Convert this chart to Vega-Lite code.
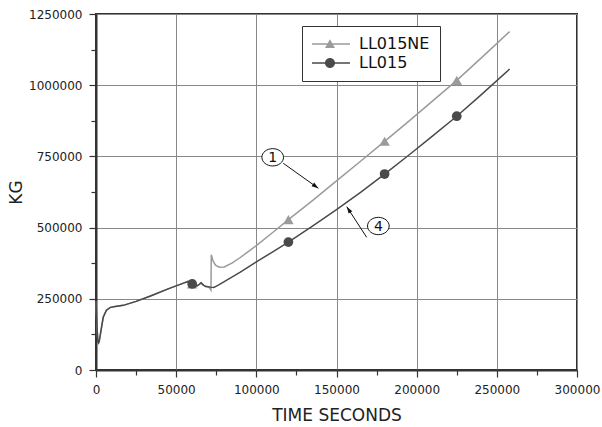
{
  "$schema": "https://vega.github.io/schema/vega-lite/v6.json",
  "width": 481,
  "height": 356,
  "autosize": {"type": "none"},
  "padding": {"left": 96, "top": 14, "right": 25, "bottom": 57},
  "background": "white",
  "config": {
    "view": {"stroke": "#333333", "strokeWidth": 2},
    "font": "DejaVu Sans"
  },
  "datasets": {
    "lines": [
      {"t": 0, "kg": 240000, "series": "LL015NE"},
      {"t": 300, "kg": 195000, "series": "LL015NE"},
      {"t": 600, "kg": 155000, "series": "LL015NE"},
      {"t": 900, "kg": 125000, "series": "LL015NE"},
      {"t": 1200, "kg": 100000, "series": "LL015NE"},
      {"t": 1600, "kg": 95000, "series": "LL015NE"},
      {"t": 2000, "kg": 100000, "series": "LL015NE"},
      {"t": 3000, "kg": 135000, "series": "LL015NE"},
      {"t": 4500, "kg": 185000, "series": "LL015NE"},
      {"t": 6500, "kg": 210000, "series": "LL015NE"},
      {"t": 9000, "kg": 220000, "series": "LL015NE"},
      {"t": 12000, "kg": 223000, "series": "LL015NE"},
      {"t": 17000, "kg": 227000, "series": "LL015NE"},
      {"t": 25000, "kg": 241000, "series": "LL015NE"},
      {"t": 34000, "kg": 260000, "series": "LL015NE"},
      {"t": 45000, "kg": 285000, "series": "LL015NE"},
      {"t": 55000, "kg": 306000, "series": "LL015NE"},
      {"t": 57500, "kg": 311000, "series": "LL015NE"},
      {"t": 59500, "kg": 304000, "series": "LL015NE"},
      {"t": 61500, "kg": 297000, "series": "LL015NE"},
      {"t": 63000, "kg": 295000, "series": "LL015NE"},
      {"t": 64500, "kg": 301000, "series": "LL015NE"},
      {"t": 65500, "kg": 306000, "series": "LL015NE"},
      {"t": 67000, "kg": 298000, "series": "LL015NE"},
      {"t": 68500, "kg": 293000, "series": "LL015NE"},
      {"t": 70000, "kg": 292000, "series": "LL015NE"},
      {"t": 71000, "kg": 287000, "series": "LL015NE"},
      {"t": 71700, "kg": 281000, "series": "LL015NE"},
      {"t": 71900, "kg": 405000, "series": "LL015NE"},
      {"t": 73000, "kg": 383000, "series": "LL015NE"},
      {"t": 74500, "kg": 368000, "series": "LL015NE"},
      {"t": 77000, "kg": 361000, "series": "LL015NE"},
      {"t": 80000, "kg": 362000, "series": "LL015NE"},
      {"t": 85000, "kg": 376000, "series": "LL015NE"},
      {"t": 90000, "kg": 395000, "series": "LL015NE"},
      {"t": 100000, "kg": 437000, "series": "LL015NE"},
      {"t": 110000, "kg": 482000, "series": "LL015NE"},
      {"t": 120000, "kg": 528000, "series": "LL015NE"},
      {"t": 135000, "kg": 595000, "series": "LL015NE"},
      {"t": 150000, "kg": 664000, "series": "LL015NE"},
      {"t": 165000, "kg": 733000, "series": "LL015NE"},
      {"t": 180000, "kg": 803000, "series": "LL015NE"},
      {"t": 195000, "kg": 873000, "series": "LL015NE"},
      {"t": 210000, "kg": 945000, "series": "LL015NE"},
      {"t": 225000, "kg": 1017000, "series": "LL015NE"},
      {"t": 240000, "kg": 1094000, "series": "LL015NE"},
      {"t": 258000, "kg": 1188000, "series": "LL015NE"},
      {"t": 0, "kg": 240000, "series": "LL015"},
      {"t": 300, "kg": 195000, "series": "LL015"},
      {"t": 600, "kg": 155000, "series": "LL015"},
      {"t": 900, "kg": 125000, "series": "LL015"},
      {"t": 1200, "kg": 100000, "series": "LL015"},
      {"t": 1600, "kg": 95000, "series": "LL015"},
      {"t": 2000, "kg": 100000, "series": "LL015"},
      {"t": 3000, "kg": 135000, "series": "LL015"},
      {"t": 4500, "kg": 185000, "series": "LL015"},
      {"t": 6500, "kg": 210000, "series": "LL015"},
      {"t": 9000, "kg": 220000, "series": "LL015"},
      {"t": 12000, "kg": 223000, "series": "LL015"},
      {"t": 17000, "kg": 227000, "series": "LL015"},
      {"t": 25000, "kg": 241000, "series": "LL015"},
      {"t": 34000, "kg": 260000, "series": "LL015"},
      {"t": 45000, "kg": 285000, "series": "LL015"},
      {"t": 55000, "kg": 306000, "series": "LL015"},
      {"t": 57500, "kg": 311000, "series": "LL015"},
      {"t": 59500, "kg": 304000, "series": "LL015"},
      {"t": 61500, "kg": 297000, "series": "LL015"},
      {"t": 63000, "kg": 295000, "series": "LL015"},
      {"t": 64500, "kg": 301000, "series": "LL015"},
      {"t": 65500, "kg": 306000, "series": "LL015"},
      {"t": 67000, "kg": 298000, "series": "LL015"},
      {"t": 68500, "kg": 293000, "series": "LL015"},
      {"t": 70000, "kg": 292000, "series": "LL015"},
      {"t": 71500, "kg": 291000, "series": "LL015"},
      {"t": 73500, "kg": 290000, "series": "LL015"},
      {"t": 76000, "kg": 297000, "series": "LL015"},
      {"t": 80000, "kg": 310000, "series": "LL015"},
      {"t": 90000, "kg": 344000, "series": "LL015"},
      {"t": 100000, "kg": 380000, "series": "LL015"},
      {"t": 110000, "kg": 414000, "series": "LL015"},
      {"t": 120000, "kg": 449000, "series": "LL015"},
      {"t": 135000, "kg": 505000, "series": "LL015"},
      {"t": 150000, "kg": 563000, "series": "LL015"},
      {"t": 165000, "kg": 624000, "series": "LL015"},
      {"t": 180000, "kg": 688000, "series": "LL015"},
      {"t": 195000, "kg": 754000, "series": "LL015"},
      {"t": 210000, "kg": 822000, "series": "LL015"},
      {"t": 225000, "kg": 891000, "series": "LL015"},
      {"t": 240000, "kg": 965000, "series": "LL015"},
      {"t": 258000, "kg": 1057000, "series": "LL015"}
    ],
    "markers": [
      {"t": 60000, "kg": 302000, "series": "LL015NE"},
      {"t": 120000, "kg": 528000, "series": "LL015NE"},
      {"t": 180000, "kg": 803000, "series": "LL015NE"},
      {"t": 225000, "kg": 1017000, "series": "LL015NE"},
      {"t": 60000, "kg": 302000, "series": "LL015"},
      {"t": 120000, "kg": 449000, "series": "LL015"},
      {"t": 180000, "kg": 688000, "series": "LL015"},
      {"t": 225000, "kg": 891000, "series": "LL015"}
    ],
    "notes": [
      {"label": "1", "t": 110200, "kg": 746800},
      {"label": "4", "t": 176100, "kg": 505600}
    ],
    "arrows": [
      {"id": "a1", "t": 116800, "kg": 725800, "t2": 138700, "kg2": 638000},
      {"id": "a4", "t": 168800, "kg": 466000, "t2": 156400, "kg2": 573400}
    ]
  },
  "encoding": {
    "x": {
      "field": "t", "type": "quantitative",
      "scale": {"domain": [0, 300000], "nice": false, "zero": false},
      "axis": {
        "values": [0, 25000, 50000, 75000, 100000, 125000, 150000, 175000, 200000, 225000, 250000, 275000, 300000],
        "format": "d",
        "labelExpr": "datum.value % 50000 === 0 ? datum.label : ''",
        "title": "TIME SECONDS",
        "titleFont": "DejaVu Sans",
        "titleFontSize": 17,
        "titleFontWeight": "normal",
        "titleColor": "#222222",
        "titlePadding": 12,
        "labelFont": "DejaVu Sans",
        "labelFontSize": 12,
        "labelColor": "#222222",
        "labelPadding": 7,
        "labelFlush": false,
        "labelOverlap": false,
        "tickSize": {"condition": {"test": "datum.value % 50000 === 0", "value": 7}, "value": 5},
        "tickColor": "#333333",
        "tickWidth": 1.2,
        "domainColor": "#333333",
        "domainWidth": 2,
        "grid": true,
        "gridColor": "#888888",
        "gridWidth": 1,
        "gridOpacity": {"condition": {"test": "datum.value % 50000 === 0", "value": 1}, "value": 0}
      }
    },
    "y": {
      "field": "kg", "type": "quantitative",
      "scale": {"domain": [0, 1250000], "nice": false},
      "axis": {
        "values": [0, 125000, 250000, 375000, 500000, 625000, 750000, 875000, 1000000, 1125000, 1250000],
        "format": "d",
        "labelExpr": "datum.value % 250000 === 0 ? datum.label : ''",
        "title": "KG",
        "titleFont": "DejaVu Sans",
        "titleFontSize": 17,
        "titleFontWeight": "normal",
        "titleColor": "#222222",
        "titlePadding": 3,
        "labelFont": "DejaVu Sans",
        "labelFontSize": 12,
        "labelColor": "#222222",
        "labelPadding": 7,
        "labelFlush": false,
        "labelOverlap": false,
        "tickSize": {"condition": {"test": "datum.value % 250000 === 0", "value": 7}, "value": 5},
        "tickColor": "#333333",
        "tickWidth": 1.2,
        "domainColor": "#333333",
        "domainWidth": 2,
        "grid": true,
        "gridColor": "#888888",
        "gridWidth": 1,
        "gridOpacity": {"condition": {"test": "datum.value % 250000 === 0", "value": 1}, "value": 0}
      }
    }
  },
  "layer": [
    {
      "data": {"name": "lines"},
      "transform": [{"filter": "datum.series === 'LL015NE'"}],
      "mark": {"type": "line", "color": "#9b9b9b", "strokeWidth": 1.5}
    },
    {
      "data": {"name": "lines"},
      "transform": [{"filter": "datum.series === 'LL015'"}],
      "mark": {"type": "line", "color": "#4a4a4a", "strokeWidth": 1.5}
    },
    {
      "data": {"name": "markers"},
      "transform": [{"filter": "datum.series === 'LL015NE'"}],
      "mark": {"type": "point", "shape": "triangle-up", "filled": true, "color": "#9b9b9b", "size": 110, "opacity": 1}
    },
    {
      "data": {"name": "markers"},
      "transform": [{"filter": "datum.series === 'LL015'"}],
      "mark": {"type": "point", "shape": "circle", "filled": true, "color": "#4a4a4a", "size": 95, "opacity": 1}
    },
    {
      "data": {"name": "markers"},
      "mark": {"type": "point", "filled": true, "opacity": 0},
      "encoding": {
        "color": {
          "field": "series", "type": "nominal",
          "scale": {"domain": ["LL015NE", "LL015"], "range": ["#9b9b9b", "#4a4a4a"]},
          "legend": {
            "title": null, "orient": "none", "legendX": 206, "legendY": 12,
            "strokeColor": "#333333", "fillColor": "white", "padding": 10,
            "labelFont": "DejaVu Sans", "labelFontSize": 16, "labelColor": "#111111",
            "labelOffset": 31, "symbolSize": 100, "symbolOpacity": 1, "symbolStrokeWidth": 0, "rowPadding": 3
          }
        },
        "shape": {
          "field": "series", "type": "nominal",
          "scale": {"domain": ["LL015NE", "LL015"], "range": [
            "M-1.6,-0.15L6,-0.15L6,0.15L-1.6,0.15Z M1,0.8L2,-0.95L3,0.8Z",
            "M-1.6,-0.15L6,-0.15L6,0.15L-1.6,0.15Z M3,0A1,1 0 1,1 1,0A1,1 0 1,1 3,0Z"
          ]},
          "legend": {
            "title": null, "orient": "none", "legendX": 206, "legendY": 12,
            "strokeColor": "#333333", "fillColor": "white", "padding": 10,
            "labelFont": "DejaVu Sans", "labelFontSize": 16, "labelColor": "#111111",
            "labelOffset": 31, "symbolSize": 100, "symbolOpacity": 1, "symbolStrokeWidth": 0, "rowPadding": 3
          }
        }
      }
    },
    {
      "data": {"name": "arrows"},
      "mark": {"type": "rule", "color": "#111111", "strokeWidth": 1},
      "encoding": {
        "x2": {"field": "t2"},
        "y2": {"field": "kg2"}
      }
    },
    {
      "data": {"name": "arrows"},
      "transform": [{"filter": "datum.id === 'a1'"}],
      "mark": {"type": "point", "shape": "M0,0L0.55,1.7L-0.55,1.7Z", "filled": true, "color": "#111111", "size": 64, "opacity": 1, "angle": 125.5},
      "encoding": {
        "x": {"field": "t2", "type": "quantitative", "title": "TIME SECONDS"},
        "y": {"field": "kg2", "type": "quantitative", "title": "KG"}
      }
    },
    {
      "data": {"name": "arrows"},
      "transform": [{"filter": "datum.id === 'a4'"}],
      "mark": {"type": "point", "shape": "M0,0L0.55,1.7L-0.55,1.7Z", "filled": true, "color": "#111111", "size": 64, "opacity": 1, "angle": 326.8},
      "encoding": {
        "x": {"field": "t2", "type": "quantitative", "title": "TIME SECONDS"},
        "y": {"field": "kg2", "type": "quantitative", "title": "KG"}
      }
    },
    {
      "data": {"name": "notes"},
      "mark": {"type": "point", "shape": "M-1.25,0A1.25,1 0 1,1 1.25,0A1.25,1 0 1,1 -1.25,0Z", "filled": true, "fill": "white", "stroke": "#111111", "strokeWidth": 1, "size": 300, "opacity": 1}
    },
    {
      "data": {"name": "notes"},
      "mark": {"type": "text", "font": "DejaVu Sans", "fontSize": 14, "color": "#111111", "baseline": "middle", "align": "center", "dy": 1},
      "encoding": {
        "text": {"field": "label"}
      }
    }
  ]
}
